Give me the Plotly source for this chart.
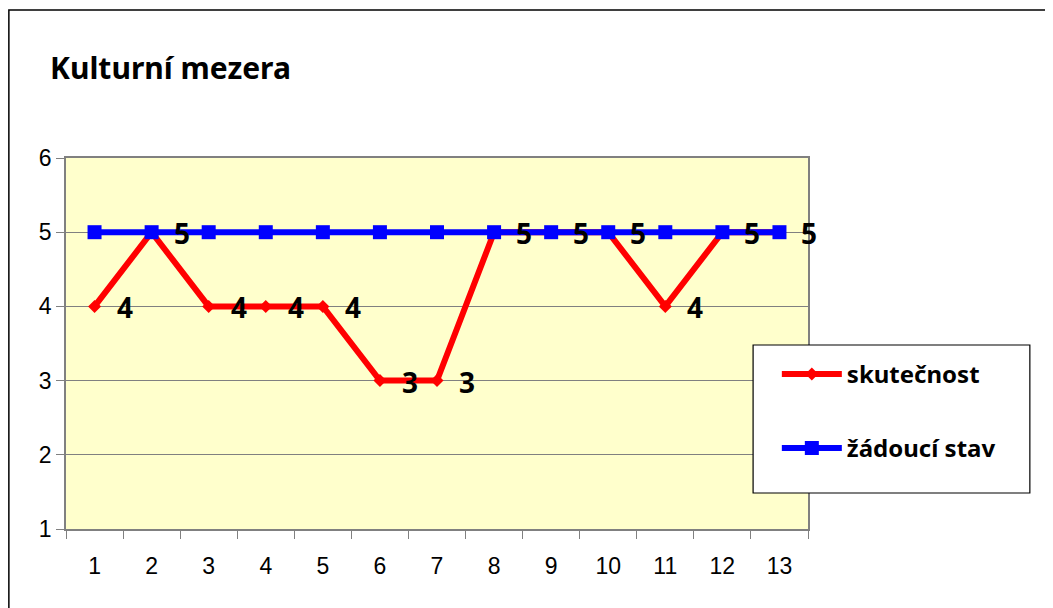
import plotly.graph_objects as go

# data
kategorie = list(range(1, 14))
skutecnost = [4, 5, 4, 4, 4, 3, 3, 5, 5, 5, 4, 5, 5]
zadouci_stav = [5, 5, 5, 5, 5, 5, 5, 5, 5, 5, 5, 5, 5]
y_ticks = [1, 2, 3, 4, 5, 6]

comic = "Comic Sans MS, Noto Sans, sans-serif"

fig = go.Figure()

# red first so the blue squares sit on top of it
fig.add_trace(go.Scatter(
    x=kategorie, y=skutecnost, name="<b>skutečnost</b>", mode="lines+markers",
    line=dict(color="#FF0000", width=6),
    marker=dict(symbol="diamond", size=10, color="#FF0000"),
    legend="legend", cliponaxis=False,
))
fig.add_trace(go.Scatter(
    x=kategorie, y=zadouci_stav, name="<b>žádoucí stav</b>", mode="lines+markers",
    line=dict(color="#0000FF", width=6),
    marker=dict(symbol="square", size=14, color="#0000FF"),
    legend="legend2", cliponaxis=False,
))

# data labels right of each red point
for xv, yv in zip(kategorie, skutecnost):
    fig.add_annotation(x=xv, y=yv, text="<b>%d</b>" % yv, showarrow=False,
                       xshift=30, yshift=-1,
                       font=dict(family=comic, size=28, color="black"))

# outer frame and legend box
fig.add_shape(type="rect", xref="paper", yref="paper", x0=-0.077, x1=1.5,
              y0=-0.4, y1=1.399, line=dict(color="black", width=1.5), layer="below")
fig.add_shape(type="rect", xref="paper", yref="paper", x0=0.926, x1=1.299,
              y0=0.097, y1=0.496, line=dict(color="black", width=1.2),
              fillcolor="white", layer="above")

fig.update_layout(
    width=1045, height=600,
    margin=dict(l=58, r=245, t=150, b=79),
    paper_bgcolor="white", plot_bgcolor="#FFFFCC",
    title=dict(text="<b>Kulturní mezera</b>", x=42 / 1045, xanchor="left",
               y=1 - 60 / 600, yanchor="middle",
               font=dict(family=comic, size=30, color="black")),
    showlegend=True,
    legend=dict(x=0.958, y=0.417, xanchor="left", yanchor="middle",
                bgcolor="rgba(0,0,0,0)", itemwidth=60,
                font=dict(family=comic, size=24, color="black")),
    legend2=dict(x=0.958, y=0.217, xanchor="left", yanchor="middle",
                 bgcolor="rgba(0,0,0,0)", itemwidth=60,
                 font=dict(family=comic, size=24, color="black")),
)

fig.update_xaxes(
    range=[0.5, 13.5], tickvals=kategorie, ticks="", showgrid=False,
    showline=True, linecolor="#808080", linewidth=1.5, mirror=True,
    zeroline=False, ticklabelstandoff=16,
    tickfont=dict(family="Liberation Sans, Arial", size=23, color="black"),
    minor=dict(tickvals=[k - 0.5 for k in kategorie] + [13.5], ticks="outside",
               ticklen=8, tickcolor="#808080", showgrid=False),
)
fig.update_yaxes(
    range=[1, 6], tickvals=y_ticks, ticks="outside", ticklen=8,
    tickcolor="#808080", showgrid=True, gridcolor="#808080", gridwidth=1.2,
    showline=True, linecolor="#808080", linewidth=1.5, mirror=True,
    zeroline=False,
    tickfont=dict(family="Liberation Sans, Arial", size=23, color="black"),
)

fig.write_html("out.html")
